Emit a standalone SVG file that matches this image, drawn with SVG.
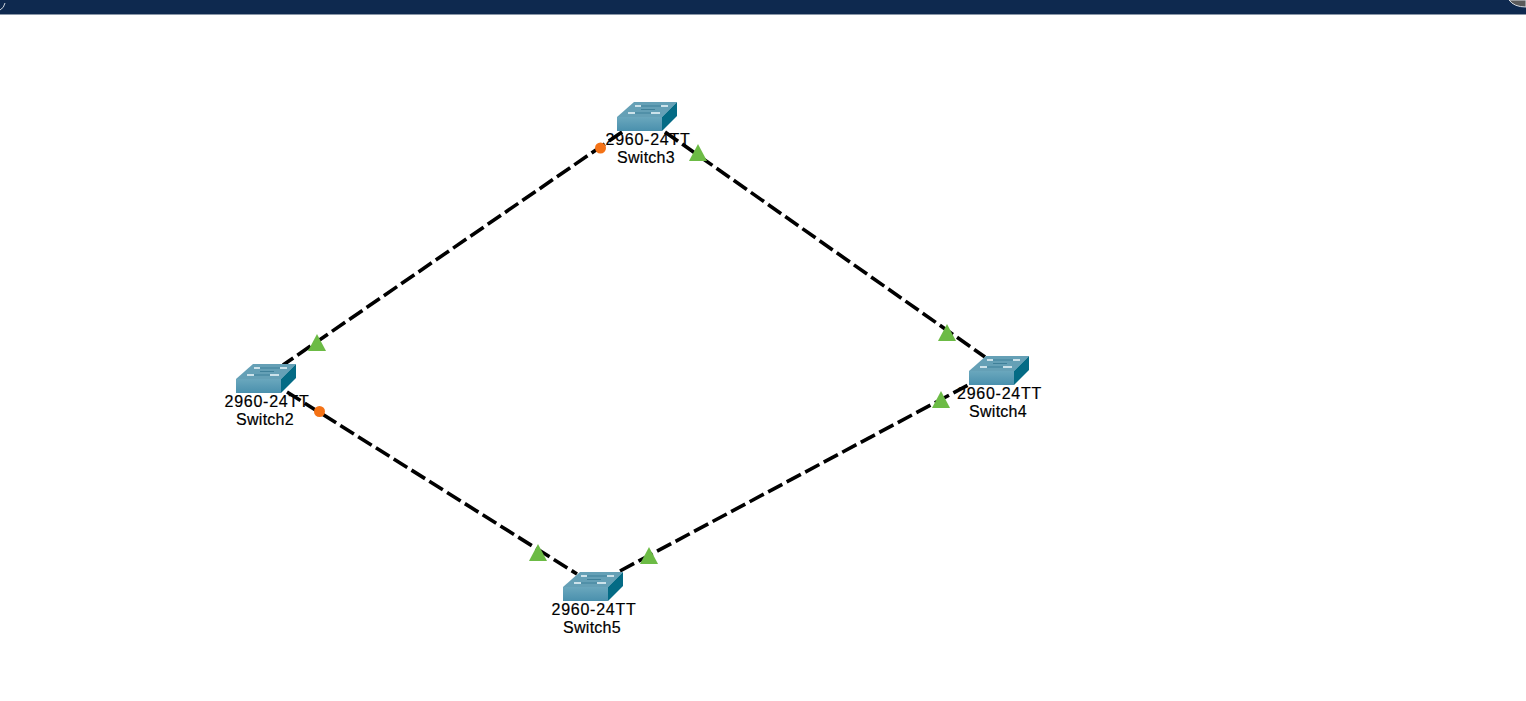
<svg xmlns="http://www.w3.org/2000/svg" width="1526" height="701" viewBox="0 0 1526 701">
<style>
.link{fill:none;stroke:#000;stroke-width:3.6;stroke-dasharray:16 5}
.up{fill:#6cbb45}
.blk{fill:#f47216}
.lbl{font-family:"Liberation Sans",Arial,sans-serif;font-size:16px;fill:#000;text-anchor:middle;stroke:#000;stroke-width:.2}
.model{letter-spacing:.75px}
.name{letter-spacing:.25px}
.top{fill:#65a0b6}
.side{fill:#046b85}
.mark{fill:none;stroke:#eef8fb;stroke-width:1.4}
.mark2{fill:none;stroke:#3f8099;stroke-width:1.2}
</style>
<defs>
<linearGradient id="fr" x1="0" y1="0" x2="0" y2="1"><stop offset="0" stop-color="#6aa7bd"/><stop offset="1" stop-color="#4a90ad"/></linearGradient>
<g id="sw">
<polygon class="top" points="0,0 17,-15 60,-15 45,0"/>
<polygon points="0,0 45,0 45,14 0,14" fill="url(#fr)"/>
<polygon class="side" points="45,0 60,-15 60,-1 45,14"/>
<path class="mark2" d="M24,-11H44M18,-4H34M24,-7.500H38"/>
<path class="mark" d="M18,-11H24M44,-11H51M11,-4H18M34,-4H43"/>
</g>
</defs>
<rect width="1526" height="14" fill="#0e294f"/>
<rect y="14" width="1526" height="1" fill="#8a97a8"/>
<path d="M0,10Q4,8 5,3" fill="none" stroke="#cfd6de" stroke-width="1"/>
<path d="M1509,0Q1514,7 1526,7V0Z" fill="#5a5a5a" stroke="#d8dde3" stroke-width="1"/>
<g id="connectors">
<line class="link" x1="283" y1="365" x2="625" y2="130" stroke-dashoffset="3.600"/>
<line class="link" x1="665" y1="132" x2="985" y2="357"/>
<line class="link" x1="287" y1="392" x2="577" y2="574"/>
<line class="link" x1="620" y1="571" x2="970" y2="384"/>
<polygon class="up" points="317,334 326,351 308,351"/>
<circle class="blk" cx="600.500" cy="148" r="5.500"/>
<polygon class="up" points="698,144 707,161 689,161"/>
<polygon class="up" points="947,324 956,341 938,341"/>
<circle class="blk" cx="319.500" cy="411.500" r="5.500"/>
<polygon class="up" points="538,544 547,561 529,561"/>
<polygon class="up" points="649,547 658,564 640,564"/>
<polygon class="up" points="941,391 950,408 932,408"/>
</g>
<g id="switch3"><use href="#sw" x="617" y="117"/><text class="lbl model" x="648" y="145">2960-24TT</text><text class="lbl name" x="646" y="163">Switch3</text></g>
<g id="switch2"><use href="#sw" x="236" y="379"/><text class="lbl model" x="267" y="407">2960-24TT</text><text class="lbl name" x="265" y="425">Switch2</text></g>
<g id="switch4"><use href="#sw" x="969" y="371"/><text class="lbl model" x="999.500" y="399">2960-24TT</text><text class="lbl name" x="998" y="417">Switch4</text></g>
<g id="switch5"><use href="#sw" x="563" y="587"/><text class="lbl model" x="594" y="615">2960-24TT</text><text class="lbl name" x="592" y="633">Switch5</text></g>
</svg>
